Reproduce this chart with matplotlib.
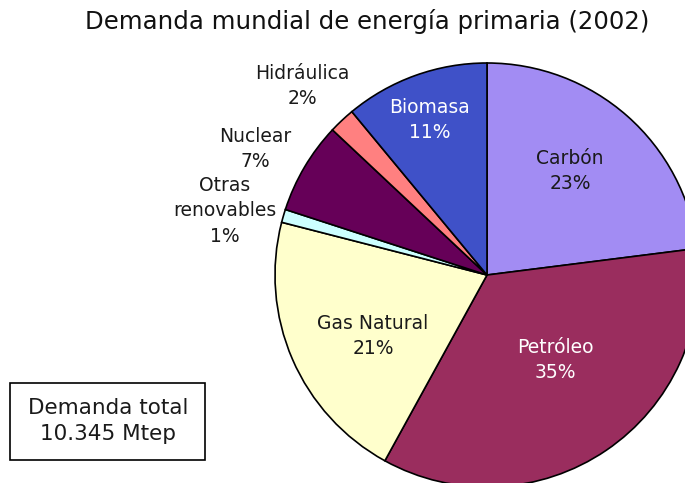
import matplotlib
matplotlib.use("Agg")
import matplotlib.pyplot as plt
from matplotlib.patches import Rectangle

plt.rcParams['font.family'] = ['DejaVu Sans']

categories = ["Carbón", "Petróleo", "Gas Natural", "Otras\nrenovables", "Nuclear", "Hidráulica", "Biomasa"]
shares = [23, 35, 21, 1, 7, 2, 11]

colors = ["#a28cf3", "#9a2d5e", "#ffffcc", "#ccffff", "#660058", "#ff8080", "#3f51c8"]
text_colors = ["#1a1a1a", "white", "#1a1a1a", "#1a1a1a", "#1a1a1a", "#1a1a1a", "white"]
# label centres in pixels from the top-left corner
label_xy = [(570, 171), (555, 360), (373, 336), (225, 211), (255, 149), (302, 86), (430, 120)]

H = 483
fig = plt.figure(figsize=(6.85, 4.83), dpi=100)
ax = fig.add_axes([0, 0, 1, 1])

cx, cy, R = 487, H - 275, 212
wedges, _ = ax.pie(shares, colors=colors, startangle=90, counterclock=False,
                   center=(cx, cy), radius=R, frame=True,
                   wedgeprops=dict(edgecolor='black', linewidth=1.2))
ax.set_xlim(0, 685)
ax.set_ylim(0, H)
ax.set_aspect('equal')
ax.axis('off')

for name, val, (x, y), tc in zip(categories, shares, label_xy, text_colors):
    ax.text(x, H - y, f"{name}\n{val}%", ha='center', va='center', fontsize=13.5,
            color=tc, linespacing=1.45)

ax.text(367, H - 21, "Demanda mundial de energía primaria (2002)", ha='center',
        va='center', fontsize=17.6, color='#111111')

ax.add_patch(Rectangle((10, H - 460), 195, 77, facecolor='white',
                       edgecolor='black', linewidth=1.2, zorder=3))
ax.text(108, H - 421, "Demanda total\n10.345 Mtep", ha='center', va='center',
        fontsize=15.5, color='#1a1a1a', zorder=4, linespacing=1.35)

fig.savefig("out.png", dpi=100)
